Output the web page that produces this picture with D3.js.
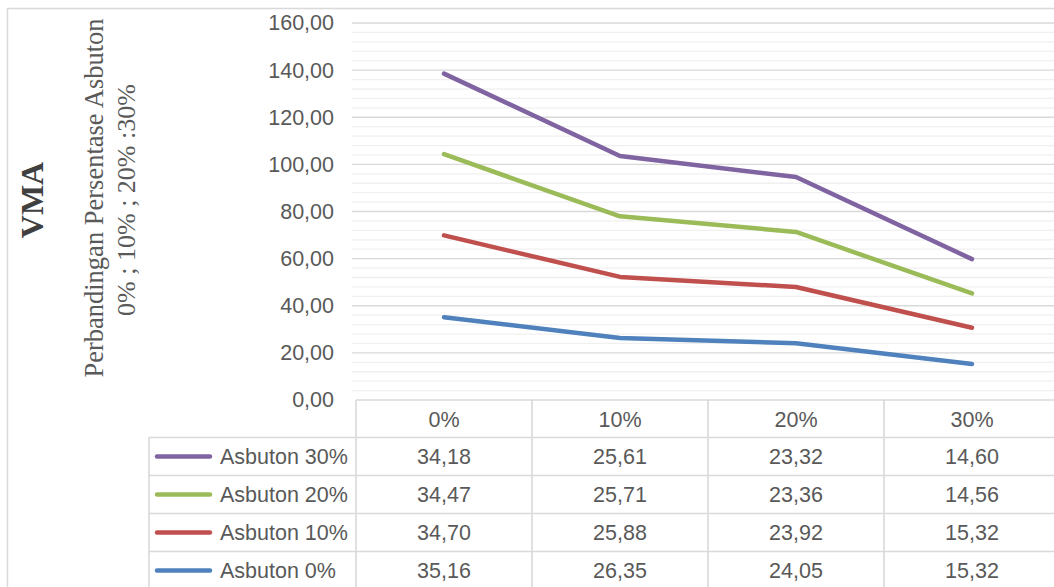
<!DOCTYPE html>
<html>
<head>
<meta charset="utf-8">
<script src="https://cdn.jsdelivr.net/npm/d3@7"></script>
<style>
  html, body { margin: 0; padding: 0; background: #fff; }
  svg { display: block; }
</style>
</head>
<body>
<svg id="chart" width="1054" height="587"></svg>
<script>
// Categories (Asbuton percentage) and per-series VMA values
const categories = ["0%", "10%", "20%", "30%"];
const seriesNames = ["Asbuton 0%", "Asbuton 10%", "Asbuton 20%", "Asbuton 30%"];
const asbuton0  = [35.16, 26.35, 24.05, 15.32];
const asbuton10 = [34.70, 25.88, 23.92, 15.32];
const asbuton20 = [34.47, 25.71, 23.36, 14.56];
const asbuton30 = [34.18, 25.61, 23.32, 14.60];
const yTicks = [0, 20, 40, 60, 80, 100, 120, 140, 160];
const colors = ["#4F81BD", "#C0504D", "#9BBB59", "#8064A2"];

const seriesValues = [asbuton0, asbuton10, asbuton20, asbuton30];

// Stacked line chart: each line is the running total of the series below it
const stackRows = categories.map((c, i) => {
  const row = { cat: c };
  seriesNames.forEach((n, s) => row[n] = seriesValues[s][i]);
  return row;
});
const stacked = d3.stack().keys(seriesNames)(stackRows);

const locale = d3.formatLocale({ decimal: ",", thousands: ".", grouping: [3], currency: ["", ""] });
const fmt = locale.format(".2f");

const svg = d3.select("#chart");
const textColor = "#595959";
const gridColor = "#d9d9d9";
const font = "'Liberation Sans', Arial, sans-serif";
const serif = "'Liberation Serif', 'Times New Roman', serif";

// Outer chart frame
svg.append("rect")
  .attr("x", 7.5).attr("y", 8.5)
  .attr("width", 1100).attr("height", 700)
  .attr("fill", "none").attr("stroke", gridColor).attr("stroke-width", 1.5);

const plotLeft = 352, plotRight = 1060;
const colBand = d3.scaleBand().domain(categories).range([356, 1060]).padding(0);
const x = d3.scalePoint().domain(categories).range([356, 1060]).padding(0.5);
const y = d3.scaleLinear().domain([0, 160]).range([400, 23]);

// Minor gridlines every 4 units
const minor = d3.range(4, 160, 4).filter(v => v % 20 !== 0);
svg.append("g").selectAll("line").data(minor).join("line")
  .attr("x1", plotLeft).attr("x2", plotRight)
  .attr("y1", d => y(d)).attr("y2", d => y(d))
  .attr("stroke", "#f0f0f0").attr("stroke-width", 1.3);

// Major gridlines
svg.append("g").selectAll("line").data(yTicks.filter(v => v > 0)).join("line")
  .attr("x1", plotLeft).attr("x2", plotRight)
  .attr("y1", d => y(d)).attr("y2", d => y(d))
  .attr("stroke", gridColor).attr("stroke-width", 1.4);

// Y axis labels
const yAxis = d3.axisLeft(y).tickValues(yTicks).tickFormat(fmt).tickSize(0).tickPadding(0);
const yg = svg.append("g").attr("transform", "translate(334,0)").call(yAxis);
yg.select(".domain").remove();
yg.selectAll("text")
  .attr("fill", textColor).style("font-family", font).style("font-size", "21.5px");

// Axis titles
svg.append("text")
  .attr("transform", "translate(43,200) rotate(-90)")
  .attr("text-anchor", "middle")
  .style("font-family", serif)
  .style("font-size", "32px").style("font-weight", "bold")
  .attr("fill", "#404040")
  .text("VMA");
svg.append("text")
  .attr("transform", "translate(103,198) rotate(-90)")
  .attr("text-anchor", "middle")
  .style("font-family", serif)
  .style("font-size", "26.5px")
  .attr("fill", textColor)
  .text("Perbandingan Persentase Asbuton");
svg.append("text")
  .attr("transform", "translate(135,200) rotate(-90)")
  .attr("text-anchor", "middle")
  .style("font-family", serif)
  .style("font-size", "26px")
  .attr("fill", textColor)
  .text("0% ; 10% ; 20% :30%");

// Lines
const line = d3.line()
  .x((d, i) => x(categories[i]))
  .y(d => y(d[1]));
svg.append("g").selectAll("path").data(stacked).join("path")
  .attr("d", d => line(d))
  .attr("fill", "none")
  .attr("stroke", (d, i) => colors[i])
  .attr("stroke-width", 4.5)
  .attr("stroke-linecap", "round")
  .attr("stroke-linejoin", "round");

// Data table
const rowTop = 400, rowH = 38;
const tableRows = seriesNames.map((n, s) => ({ name: n, vals: seriesValues[s], color: colors[s] })).reverse();
const legendLeft = 149;
const tg = svg.append("g");
const border = (x1, y1, x2, y2) => tg.append("line")
  .attr("x1", x1).attr("y1", y1).attr("x2", x2).attr("y2", y2)
  .attr("stroke", gridColor).attr("stroke-width", 1.6);

// Header row
border(colBand.range()[0], rowTop, plotRight, rowTop);
categories.forEach(c => {
  border(colBand(c), rowTop, colBand(c), rowTop + rowH * 5 + 10);
  tg.append("text")
    .attr("x", colBand(c) + colBand.bandwidth() / 2)
    .attr("y", rowTop + rowH / 2)
    .attr("dy", "0.35em")
    .attr("text-anchor", "middle")
    .attr("fill", textColor).style("font-family", font).style("font-size", "21.5px")
    .text(c);
});

// Series rows
tableRows.forEach((r, k) => {
  const top = rowTop + rowH * (k + 1) - 0.5;
  border(legendLeft, top, plotRight, top);
  const cy = top + rowH / 2;
  tg.append("line")
    .attr("x1", 157).attr("x2", 210).attr("y1", cy).attr("y2", cy)
    .attr("stroke", r.color).attr("stroke-width", 4.5).attr("stroke-linecap", "round");
  tg.append("text")
    .attr("x", 220).attr("y", cy).attr("dy", "0.35em")
    .attr("fill", textColor).style("font-family", font).style("font-size", "21.5px")
    .text(r.name);
  r.vals.forEach((v, i) => {
    tg.append("text")
      .attr("x", x(categories[i])).attr("y", cy).attr("dy", "0.35em")
      .attr("text-anchor", "middle")
      .attr("fill", textColor).style("font-family", font).style("font-size", "21.5px")
      .text(fmt(v));
  });
});
border(legendLeft, rowTop + rowH - 0.5, legendLeft, 600);
</script>
</body>
</html>
